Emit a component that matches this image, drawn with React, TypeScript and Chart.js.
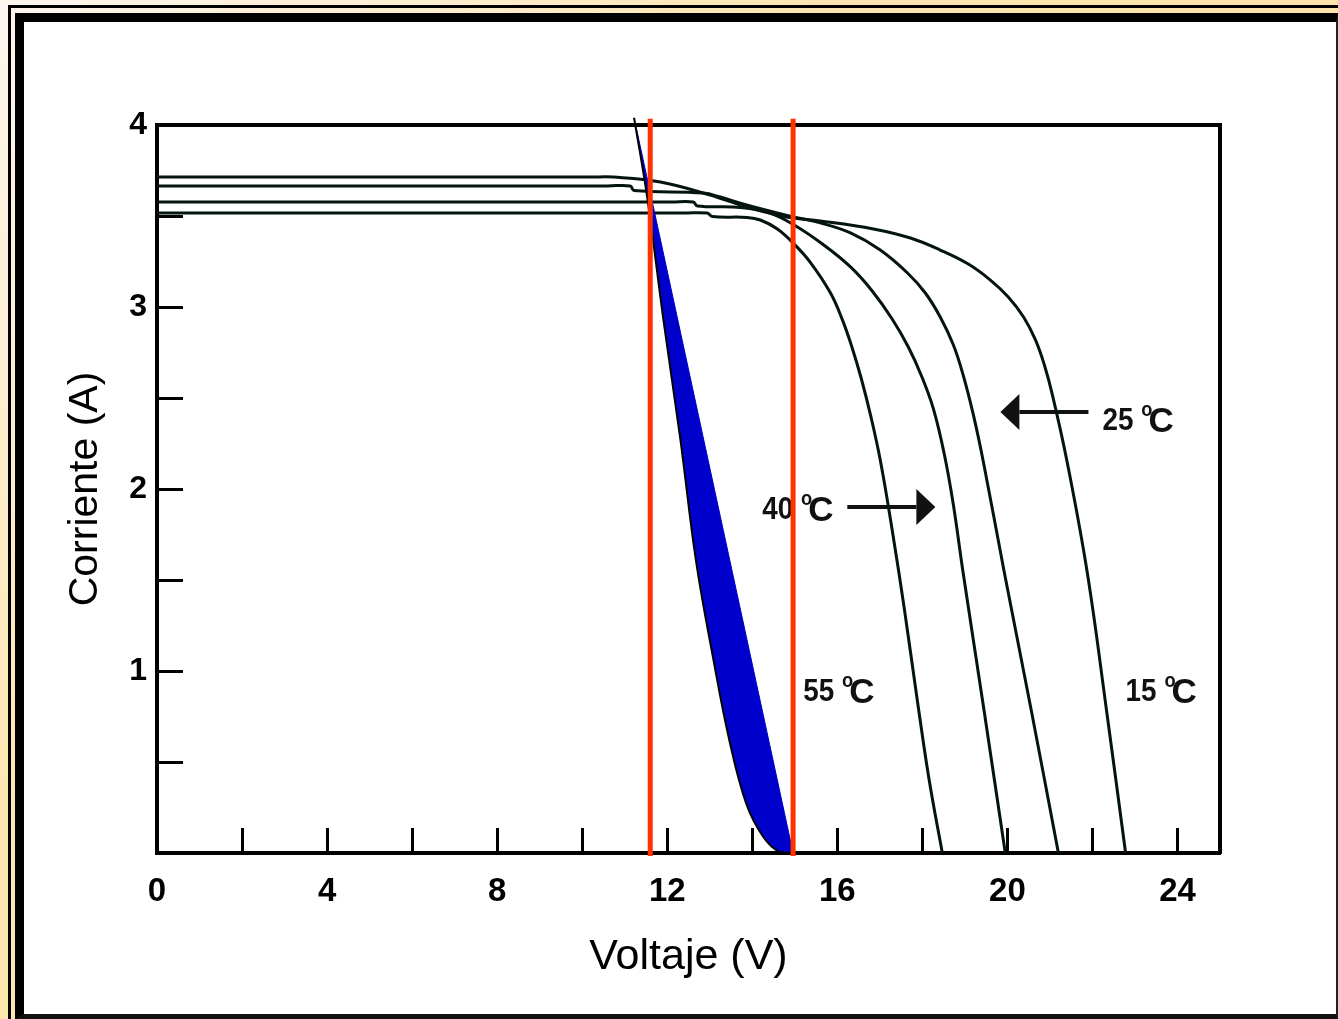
import React, { useEffect, useRef } from 'react';
import { Chart, registerables } from 'chart.js';

Chart.register(...registerables);

// ---- Axis / tick data ----
const X_MIN = 0;
const X_MAX = 25;
const Y_MIN = 0;
const Y_MAX = 4;
const X_TICK_STEP = 2;
const Y_TICK_STEP = 0.5;
const X_TICK_LABELS = [0, 4, 8, 12, 16, 20, 24];
const Y_TICK_LABELS = [1, 2, 3, 4];

// ---- I-V curves (voltage V, current A) ----
const v15 = [0, 10.2, 10.73, 11.84, 13.01, 13.79, 14.59, 14.96, 15.6, 16.85, 17.72, 18.42, 19.08, 19.6, 20.02, 20.38, 20.66, 20.87, 21.06, 21.41, 21.88, 22.33, 22.78];
const i15 = [3.714, 3.714, 3.714, 3.687, 3.615, 3.555, 3.505, 3.489, 3.473, 3.429, 3.379, 3.313, 3.236, 3.148, 3.055, 2.945, 2.819, 2.681, 2.516, 2.143, 1.538, 0.786, 0];

const v25 = [0, 10.6, 11.13, 11.22, 12.85, 13.25, 13.72, 14.31, 14.96, 15.6, 16.31, 17.01, 17.65, 18.07, 18.42, 18.73, 18.96, 19.2, 19.44, 19.93, 20.56, 21.2];
const i25 = [3.665, 3.665, 3.665, 3.64, 3.626, 3.604, 3.571, 3.533, 3.495, 3.462, 3.407, 3.313, 3.187, 3.077, 2.945, 2.791, 2.626, 2.407, 2.143, 1.538, 0.786, 0];

const v40 = [0, 12.1, 12.61, 12.71, 13.72, 14.42, 15.06, 15.65, 16.31, 16.82, 17.29, 17.67, 17.98, 18.26, 18.52, 18.73, 18.96, 19.46, 19.95];
const i40 = [3.577, 3.577, 3.577, 3.555, 3.547, 3.516, 3.44, 3.346, 3.22, 3.088, 2.934, 2.78, 2.621, 2.44, 2.187, 1.912, 1.538, 0.769, 0];

const v55 = [0, 12.4, 12.94, 13.06, 13.88, 14.19, 14.59, 14.96, 15.36, 15.84, 16.12, 16.35, 16.56, 16.78, 17.01, 17.29, 17.58, 17.88, 18.16, 18.47];
const i55 = [3.516, 3.516, 3.516, 3.497, 3.492, 3.478, 3.429, 3.352, 3.247, 3.077, 2.929, 2.775, 2.61, 2.407, 2.159, 1.775, 1.335, 0.841, 0.401, 0];

// ---- Blue shaded band (left curved edge, right straight edge) ----
const bandLeftV = [11.22, 11.53, 11.91, 12.31, 12.68, 13.08, 13.46, 13.86, 14.26, 14.64, 14.96];
const bandLeftI = [4.04, 3.6, 2.93, 2.27, 1.6, 1.07, 0.62, 0.27, 0.088, 0.005, 0];
const bandRightV = [11.22, 14.96];
const bandRightI = [4.04, 0];

// ---- Red vertical markers ----
const markerV = [11.6, 14.96];
const markerI = [4.035, -0.016];

// ---- Temperature labels ----
const tempLabels = ['25', '40', '55', '15'];
const tempLabelV = [22.235, 14.235, 15.2, 22.78];
const tempLabelI = [2.374, 1.885, 0.885, 0.885];

// ---- Arrows (tail voltage, tip voltage, current) ----
const arrowTailV = [21.906, 16.235];
const arrowTipV = [19.835, 18.306];
const arrowI = [2.423, 1.901];

const SANS = "'Liberation Sans', Arial, sans-serif";
const CURVE_COLOR = '#04140e';

const toPts = (xs: number[], ys: number[]) => xs.map((x, k) => ({ x, y: ys[k] }));

const annotationPlugin = {
  id: 'tempAnnotations',
  beforeDatasetsDraw(chart: any) {
    const { ctx, scales } = chart;
    const xs = scales.x;
    const ys = scales.y;
    const squeeze = 0.87;
    ctx.save();
    ctx.fillStyle = '#111';
    ctx.textBaseline = 'middle';
    ctx.textAlign = 'left';
    tempLabels.forEach((t, k) => {
      const px = xs.getPixelForValue(tempLabelV[k]);
      const py = ys.getPixelForValue(tempLabelI[k]);
      ctx.save();
      ctx.translate(px, py);
      ctx.scale(squeeze, 1);
      ctx.font = `bold 32px ${SANS}`;
      ctx.fillText(t, 0, 0);
      const w = ctx.measureText(t).width;
      ctx.font = `bold 21px ${SANS}`;
      ctx.fillText('o', w + 9, -11);
      ctx.restore();
      ctx.save();
      ctx.font = `bold 35px ${SANS}`;
      ctx.fillText('C', px + w * squeeze + 15, py + 1);
      ctx.restore();
    });
    ctx.strokeStyle = '#111';
    ctx.lineWidth = 4;
    arrowTailV.forEach((tv, k) => {
      const x0 = xs.getPixelForValue(tv);
      const x1 = xs.getPixelForValue(arrowTipV[k]);
      const py = ys.getPixelForValue(arrowI[k]);
      const dir = x1 > x0 ? 1 : -1;
      const headLen = 19;
      const headHalf = 18;
      ctx.beginPath();
      ctx.moveTo(x0, py);
      ctx.lineTo(x1 - dir * headLen, py);
      ctx.stroke();
      ctx.beginPath();
      ctx.moveTo(x1, py);
      ctx.lineTo(x1 - dir * headLen, py - headHalf);
      ctx.lineTo(x1 - dir * headLen, py + headHalf);
      ctx.closePath();
      ctx.fill();
    });
    ctx.restore();
  },
};

function App() {
  const canvasRef = useRef<HTMLCanvasElement | null>(null);

  useEffect(() => {
    const canvas = canvasRef.current;
    if (!canvas) return;
    const curveStyle = {
      type: 'line' as const,
      borderColor: CURVE_COLOR,
      borderWidth: 3,
      pointRadius: 0,
      fill: false,
      tension: 0.4,
      order: 5,
    };
    const chart = new Chart(canvas, {
      type: 'line',
      data: {
        datasets: [
          { ...curveStyle, label: '15 °C', data: toPts(v15, i15) },
          { ...curveStyle, label: '25 °C', data: toPts(v25, i25) },
          { ...curveStyle, label: '40 °C', data: toPts(v40, i40) },
          { ...curveStyle, label: '55 °C', data: toPts(v55, i55) },
          {
            type: 'line',
            label: 'band-left',
            data: toPts(bandLeftV, bandLeftI),
            borderColor: '#000',
            borderWidth: 2,
            backgroundColor: '#0000cc',
            fill: '+1',
            pointRadius: 0,
            tension: 0.4,
            clip: false as any,
            order: 3,
          },
          {
            type: 'line',
            label: 'band-right',
            data: toPts(bandRightV, bandRightI),
            borderColor: '#0000cc',
            borderWidth: 1,
            pointRadius: 0,
            fill: false,
            order: 4,
          },
          ...markerV.map((mv) => ({
            type: 'line' as const,
            label: 'marker',
            data: markerI.map((mi) => ({ x: mv, y: mi })),
            borderColor: '#ff3300',
            borderWidth: 5,
            pointRadius: 0,
            fill: false,
            clip: false as any,
            order: 1,
          })),
        ],
      },
      options: {
        animation: false,
        responsive: false,
        maintainAspectRatio: false,
        devicePixelRatio: 1,
        layout: { padding: { top: 103, right: 116, left: 0, bottom: 0 } },
        plugins: {
          legend: { display: false },
          tooltip: { enabled: false },
        },
        elements: { point: { radius: 0 } },
        scales: {
          x: {
            type: 'linear',
            position: 'bottom',
            min: X_MIN,
            max: X_MAX,
            afterFit: (s: any) => {
              s.height = 161;
            },
            border: { display: true, color: '#000', width: 4 },
            grid: {
              drawOnChartArea: false,
              drawTicks: true,
              tickLength: -25,
              tickWidth: 3,
              tickColor: '#000',
            },
            ticks: {
              stepSize: X_TICK_STEP,
              autoSkip: false,
              maxRotation: 0,
              minRotation: 0,
              includeBounds: false,
              padding: 44,
              color: '#000',
              font: { family: SANS, size: 33, weight: 'bold' },
              callback: (v: any) => (X_TICK_LABELS.includes(Number(v)) ? String(v) : ''),
            },
            title: {
              display: true,
              text: 'Voltaje (V)',
              color: '#000',
              font: { family: SANS, size: 43 },
              padding: { top: 0, bottom: 31 },
            },
          },
          y: {
            type: 'linear',
            position: 'left',
            min: Y_MIN,
            max: Y_MAX,
            afterFit: (s: any) => {
              s.width = 133;
            },
            border: { display: true, color: '#000', width: 4 },
            grid: {
              drawOnChartArea: false,
              drawTicks: true,
              tickLength: -26,
              tickWidth: 3,
              tickColor: '#000',
            },
            ticks: {
              stepSize: Y_TICK_STEP,
              autoSkip: false,
              includeBounds: false,
              padding: 36,
              color: '#000',
              font: { family: SANS, size: 32, weight: 'bold' },
              callback: (v: any) => (Y_TICK_LABELS.includes(Number(v)) ? String(v) : ''),
            },
            title: {
              display: true,
              text: 'Corriente (A)',
              color: '#000',
              font: { family: SANS, size: 41 },
              padding: { top: 37, bottom: 0 },
            },
          },
          xTop: {
            type: 'linear',
            position: 'top',
            min: X_MIN,
            max: X_MAX,
            afterFit: (s: any) => {
              s.height = 0;
            },
            ticks: { display: false },
            grid: { drawOnChartArea: false, drawTicks: false },
            border: { display: true, color: '#000', width: 4 },
          },
          yRight: {
            type: 'linear',
            position: 'right',
            min: Y_MIN,
            max: Y_MAX,
            afterFit: (s: any) => {
              s.width = 0;
            },
            ticks: { display: false },
            grid: { drawOnChartArea: false, drawTicks: false },
            border: { display: true, color: '#000', width: 4 },
          },
        },
      } as any,
      plugins: [annotationPlugin],
    });
    return () => chart.destroy();
  }, []);

  return (
    <div
      style={{
        position: 'fixed',
        left: 0,
        top: 0,
        width: 1338,
        height: 1019,
        overflow: 'hidden',
        background: 'linear-gradient(135deg, #fdf6ef 0%, #fde6b0 35%, #fde2a4 100%)',
      }}
    >
      <div
        style={{
          position: 'absolute',
          left: 8,
          top: 5,
          right: 0,
          bottom: 0,
          boxSizing: 'border-box',
          borderLeft: '3px solid #000',
          borderTop: '3px solid #000',
        }}
      />
      <div
        style={{
          position: 'absolute',
          left: 15,
          top: 13,
          width: 1323,
          height: 1006,
          boxSizing: 'border-box',
          borderLeft: '9px solid #000',
          borderTop: '9px solid #000',
          borderRight: '2px solid #222',
          borderBottom: '5px solid #111',
          background: '#fff',
        }}
      >
        <canvas
          ref={canvasRef}
          width={1312}
          height={992}
          style={{ position: 'absolute', left: 0, top: 0, width: 1312, height: 992, display: 'block' }}
        />
      </div>
    </div>
  );
}

export default App;
